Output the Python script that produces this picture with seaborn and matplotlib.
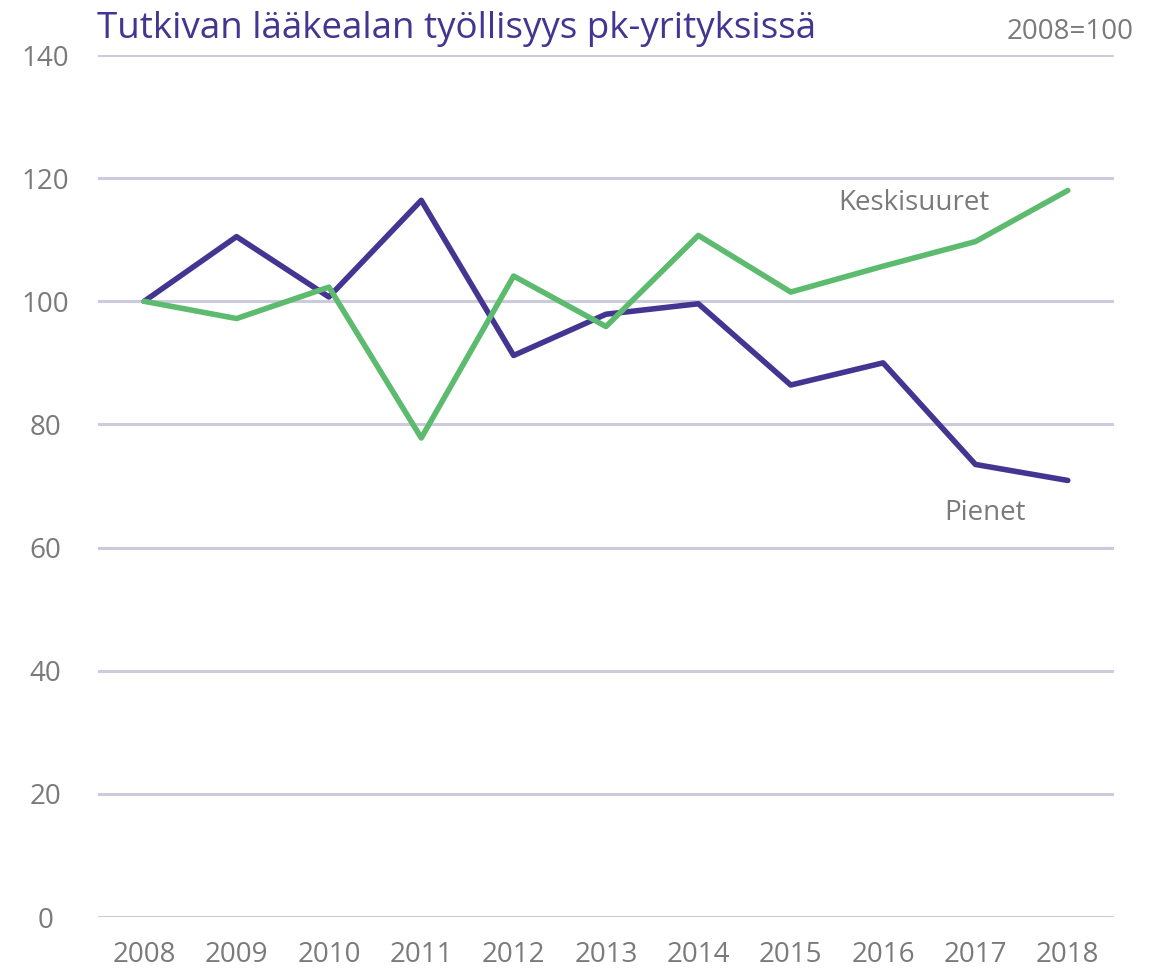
import matplotlib
matplotlib.use("Agg")
import matplotlib.pyplot as plt
import seaborn as sns
import pandas as pd

years = ["2008", "2009", "2010", "2011", "2012", "2013", "2014", "2015", "2016", "2017", "2018"]
pienet = [100.0, 110.5, 100.7, 116.4, 91.2, 97.9, 99.6, 86.4, 90.0, 73.5, 70.9]
keskisuuret = [100.0, 97.2, 102.3, 77.8, 104.1, 95.9, 110.7, 101.5, 105.7, 109.7, 118.0]
yticks = [0, 20, 40, 60, 80, 100, 120, 140]

title = "Tutkivan lääkealan työllisyys pk-yrityksissä"
note = "2008=100"

sns.set_theme(style="white")
plt.rcParams["font.family"] = ["Open Sans", "DejaVu Sans"]

purple = "#433591"
green = "#5dbb70"
gray = "#7a7a7a"
gridc = "#cbcbdb"

df = pd.DataFrame({"Vuosi": years * 2,
                   "Indeksi": pienet + keskisuuret,
                   "Sarja": ["Pienet"] * len(years) + ["Keskisuuret"] * len(years)})

fig = plt.figure(figsize=(11.65, 9.73), dpi=100)
ax = fig.add_axes([98 / 1165, 1 - 917 / 973, (1114 - 98) / 1165, (917 - 55) / 973])

for y in yticks:
    ax.axhline(y, color=gridc, lw=2.2, zorder=0)

sns.lineplot(data=df, x="Vuosi", y="Indeksi", hue="Sarja",
             palette={"Pienet": purple, "Keskisuuret": green},
             hue_order=["Pienet", "Keskisuuret"],
             linewidth=4.0, legend=False, ax=ax, sort=False)

ax.set_xlim(-0.5, len(years) - 0.5)
ax.set_ylim(0, 140)
ax.set_yticks(yticks)
ax.set_yticklabels([str(v) for v in yticks])
ax.set_xlabel("")
ax.set_ylabel("")
for s in ax.spines.values():
    s.set_visible(False)
ax.tick_params(axis="both", length=0, labelsize=20, labelcolor=gray)
ax.tick_params(axis="y", pad=38)
ax.tick_params(axis="x", pad=17)
for lbl in ax.get_yticklabels():
    lbl.set_horizontalalignment("center")

fig.text(97 / 1165, 1 - 29 / 973, title, color=purple, fontsize=26.5, ha="left", va="center")
fig.text(1134 / 1165, 1 - 32 / 973, note, color=gray, fontsize=20, ha="right", va="center")

ax.text(8.33, 116.0, "Keskisuuret", color=gray, fontsize=20, ha="center", va="center")
ax.text(9.1, 65.6, "Pienet", color=gray, fontsize=20, ha="center", va="center")

fig.savefig("out.png", dpi=100)
